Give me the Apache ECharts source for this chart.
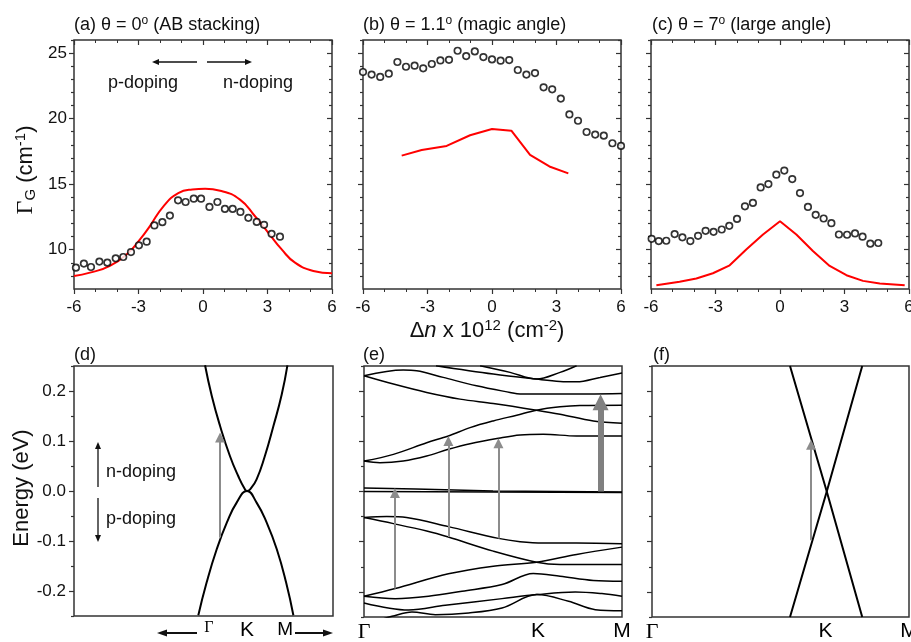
<!DOCTYPE html>
<html><head><meta charset="utf-8">
<script src="https://cdn.jsdelivr.net/npm/echarts@6/dist/echarts.min.js"></script>
<style>html,body{margin:0;padding:0;background:#fff}#main{width:911px;height:642px}</style>
</head><body><div id="main"></div><script>
const SANS = '"Liberation Sans", Arial, sans-serif';
const SERIF = '"Liberation Serif", "Times New Roman", serif';

// ---------- tick labels ----------
const densityTicks = [-6, -3, 0, 3, 6];
const gammaTicks = [10, 15, 20, 25];
const gammaMinorTicks = [8, 9, 11, 12, 13, 14, 16, 17, 18, 19, 21, 22, 23, 24, 26];
const energyTicks = [-0.2, -0.1, 0, 0.1, 0.2];
const energyMinorTicks = [-0.25, -0.15, -0.05, 0.05, 0.15, 0.25];
const kLabels = ['Γ', 'K', 'M'];
const dKPos = [0.521, 0.668, 0.815];
const eKPos = [0, 0.674, 1];
const fKPos = [0, 0.675, 1];

// ---------- (a) theta = 0 ----------
const aDensity = [-5.91,-5.54,-5.21,-4.82,-4.45,-4.06,-3.71,-3.35,-2.98,-2.62,-2.26,-1.89,-1.54,-1.16,-0.81,-0.43,-0.09,0.30,0.67,1.02,1.38,1.74,2.11,2.50,2.84,3.19,3.58];
const aWidth = [8.63,8.94,8.68,9.09,9.01,9.34,9.44,9.82,10.33,10.61,11.85,12.10,12.60,13.77,13.64,13.89,13.89,13.26,13.64,13.11,13.11,12.88,12.43,12.12,11.90,11.21,10.99];
const aTheoryX = [-6,-5.26,-4.33,-3.47,-2.93,-2.47,-1.84,-1.15,-0.5,0.1,0.8,1.72,2.42,3.04,3.66,4.28,5.13,6];
const aTheoryY = [8.0,8.25,8.76,9.77,10.78,11.8,13.31,14.32,14.6,14.65,14.5,13.82,12.55,11.29,10.02,9.01,8.38,8.2];

// ---------- (b) theta = 1.1 ----------
const bDensity = [-6,-5.6,-5.2,-4.8,-4.4,-4,-3.6,-3.2,-2.8,-2.4,-2,-1.6,-1.2,-0.8,-0.4,0,0.4,0.8,1.2,1.6,2,2.4,2.8,3.2,3.6,4,4.4,4.8,5.2,5.6,6];
const bWidth = [23.56,23.36,23.18,23.43,24.32,23.96,24.04,23.84,24.17,24.44,24.49,25.18,24.77,25.13,24.70,24.52,24.42,24.47,23.71,23.36,23.48,22.39,22.24,21.53,20.32,19.84,18.98,18.78,18.70,18.12,17.92];
const bTheoryX = [-4.2,-3.27,-2.11,-1.02,0,0.9,1.77,2.67,3.55];
const bTheoryY = [17.18,17.61,17.92,18.73,19.21,19.08,17.23,16.35,15.82];

// ---------- (c) theta = 7 ----------
const cDensity = [-5.97,-5.64,-5.29,-4.90,-4.54,-4.17,-3.81,-3.46,-3.09,-2.71,-2.36,-2.00,-1.63,-1.26,-0.90,-0.54,-0.17,0.20,0.57,0.93,1.30,1.66,2.03,2.39,2.74,3.12,3.49,3.84,4.20,4.57];
const cWidth = [10.83,10.66,10.68,11.19,10.94,10.66,11.06,11.44,11.36,11.54,11.82,12.35,13.31,13.57,14.75,15.01,15.72,16.04,15.39,14.32,13.26,12.66,12.38,12.02,11.16,11.14,11.24,10.99,10.46,10.51];
const cTheoryX = [-5.75,-4.67,-3.89,-3.12,-2.34,-1.57,-0.79,0,0.76,1.53,2.31,3.09,3.86,4.64,5.8];
const cTheoryY = [7.29,7.55,7.80,8.2,8.81,10.02,11.16,12.17,11.16,9.9,8.76,8.05,7.62,7.42,7.29];

// ---------- (d) bands, AB bilayer ----------
const dUpper = [[0.506,0.2514],[0.532,0.19],[0.564,0.13],[0.602,0.07],[0.634,0.03],[0.660,0.0034],[0.668,0],[0.680,0.0034],[0.705,0.0234],[0.737,0.07],[0.770,0.13],[0.802,0.193],[0.824,0.2514]];
const dLower = [[0.480,-0.2486],[0.512,-0.1832],[0.551,-0.1166],[0.590,-0.0632],[0.628,-0.0232],[0.668,0],[0.705,-0.0232],[0.744,-0.0632],[0.783,-0.1166],[0.819,-0.1832],[0.847,-0.2486]];
const dArrows = [[0.564,-0.093,0.117]]; // [k, from, to]

// ---------- (e) bands, magic angle ----------
const eFlatA = [[0,0.007],[0.2,0.005],[0.5,0.001],[1,-0.001]];
const eFlatB = [[0,0.0],[0.5,-0.001],[1,-0.002]];
const eC = [[0,0.0606],[0.114,0.074],[0.243,0.0972],[0.327,0.1106],[0.411,0.1272],[0.501,0.1406],[0.592,0.152],[0.669,0.162],[0.760,0.1686],[0.837,0.1713],[1,0.172]];
const eD = [[0,0.0606],[0.062,0.0572],[0.152,0.0606],[0.243,0.0706],[0.327,0.084],[0.411,0.0952],[0.521,0.106],[0.605,0.1126],[0.695,0.114],[0.824,0.1106],[1,0.1106]];
const eE = [[0,0.2306],[0.152,0.242],[0.204,0.2406],[0.307,0.2273],[0.436,0.2106],[0.566,0.1973],[0.605,0.194],[0.760,0.194],[1,0.1953]];
const eF = [[0,0.2306],[0.114,0.214],[0.243,0.1973],[0.372,0.184],[0.501,0.1753],[0.669,0.162],[0.760,0.154],[0.889,0.1406],[1,0.136]];
const eM = [[0.279,0.2506],[0.501,0.2339],[0.669,0.2239],[0.760,0.2193],[0.824,0.2186],[0.915,0.2273],[1,0.236]];
const eN = [[0.450,0.2506],[0.566,0.2373],[0.669,0.2239],[0.760,0.2373],[0.824,0.2506]];
const eG = [[0,-0.052],[0.088,-0.05],[0.165,-0.052],[0.327,-0.07],[0.521,-0.0934],[0.605,-0.1],[0.695,-0.1028],[0.824,-0.1028],[1,-0.104]];
const eH = [[0,-0.052],[0.114,-0.064],[0.243,-0.0788],[0.327,-0.0908],[0.501,-0.1188],[0.669,-0.1408],[0.760,-0.1454],[1,-0.1454]];
const eI = [[0,-0.2088],[0.121,-0.1934],[0.327,-0.164],[0.501,-0.1488],[0.669,-0.1408],[0.824,-0.1254],[1,-0.1108]];
const eJ = [[0,-0.2088],[0.121,-0.2134],[0.25,-0.2087],[0.38,-0.1987],[0.535,-0.1854],[0.656,-0.1634],[0.760,-0.1688],[0.889,-0.1774],[1,-0.1788]];
const eK = [[0,-0.222],[0.173,-0.2361],[0.315,-0.2267],[0.535,-0.2134],[0.67,-0.2054],[0.819,-0.2001],[0.922,-0.2034],[1,-0.2087]];
const eL = [[0.06,-0.256],[0.1085,-0.2487],[0.186,-0.24],[0.2765,-0.2454],[0.4057,-0.242],[0.535,-0.232],[0.67,-0.2054],[0.793,-0.2187],[0.8966,-0.2354],[1,-0.2374]];
const eArrows = [[0.120,-0.193,0.007],[0.327,-0.0908,0.1106],[0.521,-0.0934,0.106]];
const eThickArrows = [[0.917,0.0,0.194]];

// ---------- (f) bands, large angle ----------
const fLine1 = [[0.537,0.25],[0.680,0],[0.818,-0.25]];
const fLine2 = [[0.537,-0.25],[0.680,0],[0.818,0.25]];
const fArrows = [[0.619,-0.097,0.103]];

// =====================================================
const chart = echarts.init(document.getElementById('main'), null, {renderer: 'canvas'});
const AX = '#333';
const gridBoxes = [
  {left: 74, top: 40, width: 258, height: 249},
  {left: 363, top: 40, width: 258, height: 249},
  {left: 651, top: 40, width: 258, height: 249},
  {left: 74, top: 366, width: 259, height: 250},
  {left: 364, top: 366, width: 258, height: 251},
  {left: 652, top: 366, width: 257, height: 251}
];
const grids = gridBoxes.map(g => Object.assign({show: true, borderColor: AX, borderWidth: 1.5, backgroundColor: 'transparent', containLabel: false, outerBoundsMode: 'none'}, g));

function tick(show, inside, len, custom) {
  const t = {show: show, inside: inside, length: len, lineStyle: {color: AX, width: 1.2}};
  if (custom) t.customValues = custom;
  return t;
}
const noLine = {show: false, onZero: false};
const noLabel = {show: false};
const xAxes = [], yAxes = [];
const decoX = [], decoY = [];

for (let g = 0; g < 3; g++) {
  xAxes[g] = {type: 'value', gridIndex: g, position: 'bottom', min: -6, max: 6, interval: 3,
    axisLine: noLine, splitLine: {show: false},
    axisTick: tick(true, false, 5), minorTick: {show: true, splitNumber: 3, length: 3, lineStyle: {color: AX, width: 1}},
    axisLabel: {show: true, customValues: densityTicks, fontSize: 17, fontFamily: SANS, color: '#111', margin: 10}};
  yAxes[g] = {type: 'value', gridIndex: g, position: 'left', min: 7, max: 26,
    axisLine: noLine, splitLine: {show: false},
    axisTick: tick(true, false, 5, gammaTicks),
    axisLabel: {show: g === 0, customValues: gammaTicks, fontSize: 17, fontFamily: SANS, color: '#111', margin: 7}};
  decoX.push({type: 'value', gridIndex: g, position: 'top', min: -6, max: 6, interval: 3,
    axisLine: noLine, splitLine: {show: false}, axisLabel: noLabel,
    axisTick: tick(true, true, 5), minorTick: {show: true, splitNumber: 3, length: 3, lineStyle: {color: AX, width: 1}}});
  decoY.push({type: 'value', gridIndex: g, position: 'left', min: 7, max: 26, axisLine: noLine, splitLine: {show: false},
    axisLabel: noLabel, axisTick: tick(true, false, 3, gammaMinorTicks)});
  decoY.push({type: 'value', gridIndex: g, position: 'right', min: 7, max: 26, axisLine: noLine, splitLine: {show: false},
    axisLabel: noLabel, axisTick: tick(true, true, 5, gammaTicks)});
  decoY.push({type: 'value', gridIndex: g, position: 'right', min: 7, max: 26, axisLine: noLine, splitLine: {show: false},
    axisLabel: noLabel, axisTick: tick(true, true, 3, gammaMinorTicks)});
}

const kRich = {
  gBig: {fontFamily: SERIF, fontSize: 22, color: '#000'},
  gSmall: {fontFamily: SERIF, fontSize: 16, color: '#000'},
  kBig: {fontFamily: SANS, fontSize: 21, color: '#000'},
  mMid: {fontFamily: SANS, fontSize: 19, color: '#000'}
};
const kPosList = [dKPos, eKPos, fKPos];
const kStyleList = [['gSmall', 'kBig', 'mMid'], ['gBig', 'kBig', 'kBig'], ['gBig', 'kBig', 'kBig']];
for (let g = 3; g < 6; g++) {
  const pos = kPosList[g - 3], sty = kStyleList[g - 3];
  xAxes[g] = {type: 'value', gridIndex: g, position: 'bottom', min: 0, max: 1,
    axisLine: noLine, splitLine: {show: false}, axisTick: {show: false},
    axisLabel: {show: true, customValues: pos, margin: 4, rich: kRich,
      formatter: function (v) { const i = pos.indexOf(v); return i < 0 ? '' : '{' + sty[i] + '|' + kLabels[i] + '}'; }}};
  yAxes[g] = {type: 'value', gridIndex: g, position: 'left', min: -0.25, max: 0.25,
    axisLine: noLine, splitLine: {show: false},
    axisTick: tick(true, false, 5, energyTicks),
    axisLabel: {show: g === 3, customValues: energyTicks, fontSize: 17, fontFamily: SANS, color: '#111', margin: 8,
      formatter: function (v) { return v.toFixed(1); }}};
  decoY.push({type: 'value', gridIndex: g, position: 'left', min: -0.25, max: 0.25, axisLine: noLine, splitLine: {show: false},
    axisLabel: noLabel, axisTick: tick(true, false, 3, energyMinorTicks)});
}

// ---------- series ----------
const series = [];
function zip(xs, ys) { return xs.map((x, i) => [x, ys[i]]); }
function addExp(g, xs, ys) {
  series.push({type: 'scatter', xAxisIndex: g, yAxisIndex: g, data: zip(xs, ys), symbol: 'circle', symbolSize: 6.5,
    itemStyle: {color: '#fff', borderColor: '#000', borderWidth: 1.7}, z: 4, silent: true});
}
function addTheory(g, xs, ys, smooth) {
  series.push({type: 'line', xAxisIndex: g, yAxisIndex: g, data: zip(xs, ys), symbol: 'none', smooth: smooth,
    lineStyle: {color: '#ff0000', width: 2}, z: 3, silent: true});
}
function addBand(g, pts, width, smooth) {
  series.push({type: 'line', xAxisIndex: g, yAxisIndex: g, data: pts, symbol: 'none', smooth: smooth,
    lineStyle: {color: '#000', width: width}, z: 3, silent: true});
}
const EV_PER_PX = 0.5 / 250;
function addArrows(g, arrows, width, head, color) {
  series.push({type: 'line', xAxisIndex: g, yAxisIndex: g, data: [], symbol: 'none', z: 6, silent: true,
    markLine: {silent: true, animation: false, symbol: ['none', 'triangle'], symbolSize: head,
      label: {show: false}, emphasis: {disabled: true},
      lineStyle: {type: 'solid', color: color, width: width},
      data: arrows.map(a => [{coord: [a[0], a[1]]}, {coord: [a[0], a[2] - head / 2 * EV_PER_PX]}])}});
}

addTheory(0, aTheoryX, aTheoryY, true);
addExp(0, aDensity, aWidth);
addTheory(1, bTheoryX, bTheoryY, false);
addExp(1, bDensity, bWidth);
addTheory(2, cTheoryX, cTheoryY, false);
addExp(2, cDensity, cWidth);

addBand(3, dUpper, 2, true);
addBand(3, dLower, 2, true);
addArrows(3, dArrows, 2, 10, '#8c8c8c');

[eFlatA, eFlatB].forEach(b => addBand(4, b, 1.6, false));
[eC, eD, eE, eF, eM, eN, eG, eH, eI, eJ, eK, eL].forEach(b => addBand(4, b, 1.5, 0.35));
addArrows(4, eArrows, 2, 10, '#8c8c8c');
addArrows(4, eThickArrows, 6, 16, '#808080');

addBand(5, fLine1, 2, false);
addBand(5, fLine2, 2, false);
addArrows(5, fArrows, 2, 10, '#8c8c8c');

// ---------- annotations ----------
function txt(x, y, text, extra) {
  return {type: 'text', x: x, y: y, silent: true, z: 10,
    style: Object.assign({text: text, fill: '#111', fontSize: 18, fontFamily: SANS, textVerticalAlign: 'middle', textAlign: 'left'}, extra || {})};
}
function gArrow(x1, y1, x2, y2, head, hw, color, width) {
  const dx = x2 - x1, dy = y2 - y1, L = Math.sqrt(dx * dx + dy * dy), ux = dx / L, uy = dy / L;
  const bx = x2 - ux * head, by = y2 - uy * head;
  return [
    {type: 'line', silent: true, z: 10, shape: {x1: x1, y1: y1, x2: bx + ux, y2: by + uy}, style: {stroke: color, lineWidth: width}},
    {type: 'polygon', silent: true, z: 10, shape: {points: [[x2, y2], [bx - uy * hw, by + ux * hw], [bx + uy * hw, by - ux * hw]]}, style: {fill: color}}
  ];
}
const supRich = {sup: {fontSize: 12, fontFamily: SANS, fill: '#111', padding: [0, 0, 9, 0]}};
const graphic = [
  txt(74, 25, '(a) θ = 0{sup|o} (AB stacking)', {rich: supRich}),
  txt(363, 25, '(b) θ = 1.1{sup|o} (magic angle)', {rich: supRich}),
  txt(652, 25, '(c) θ = 7{sup|o} (large angle)', {rich: supRich}),
  txt(74, 355, '(d)'),
  txt(363, 355, '(e)'),
  txt(653, 355, '(f)'),
  txt(108, 83, 'p-doping'),
  txt(223, 83, 'n-doping'),
  txt(106, 472, 'n-doping'),
  txt(106, 519, 'p-doping'),
  {type: 'text', x: 26, y: 170, rotation: Math.PI / 2, silent: true, z: 10,
    style: {text: '{g|Γ}{sub|G}{n| (cm}{sup|-1}{n|)}', textAlign: 'center', textVerticalAlign: 'middle',
      rich: {g: {fontFamily: SERIF, fontSize: 24, fill: '#111'}, sub: {fontFamily: SANS, fontSize: 15, fill: '#111', padding: [9, 0, 0, 0]},
        n: {fontFamily: SANS, fontSize: 22, fill: '#111'}, sup: {fontFamily: SANS, fontSize: 15, fill: '#111', padding: [0, 0, 10, 0]}}}},
  {type: 'text', x: 22, y: 488, rotation: Math.PI / 2, silent: true, z: 10,
    style: {text: 'Energy (eV)', fontFamily: SANS, fontSize: 22, fill: '#111', textAlign: 'center', textVerticalAlign: 'middle'}},
  {type: 'text', x: 487, y: 331, silent: true, z: 10,
    style: {text: '{n|Δ}{i|n}{n| x 10}{sup|12}{n| (cm}{sup|-2}{n|)}', textAlign: 'center', textVerticalAlign: 'middle',
      rich: {n: {fontFamily: SANS, fontSize: 22, fill: '#111'}, i: {fontFamily: SANS, fontStyle: 'italic', fontSize: 22, fill: '#111'},
        sup: {fontFamily: SANS, fontSize: 15, fill: '#111', padding: [0, 0, 10, 0]}}}}
]
.concat(gArrow(197, 62, 152, 62, 7, 3, '#111', 1.3))
.concat(gArrow(207, 62, 252, 62, 7, 3, '#111', 1.3))
.concat(gArrow(98, 487, 98, 442, 7, 3, '#111', 1.3))
.concat(gArrow(98, 498, 98, 542, 7, 3, '#111', 1.3))
.concat(gArrow(197, 633, 157, 633, 10, 3.5, '#111', 2))
.concat(gArrow(295, 633, 333, 633, 10, 3.5, '#111', 2));

chart.setOption({
  animation: false,
  backgroundColor: '#fff',
  textStyle: {fontFamily: SANS},
  grid: grids,
  xAxis: xAxes.concat(decoX),
  yAxis: yAxes.concat(decoY),
  series: series,
  graphic: graphic
});
</script></body></html>
